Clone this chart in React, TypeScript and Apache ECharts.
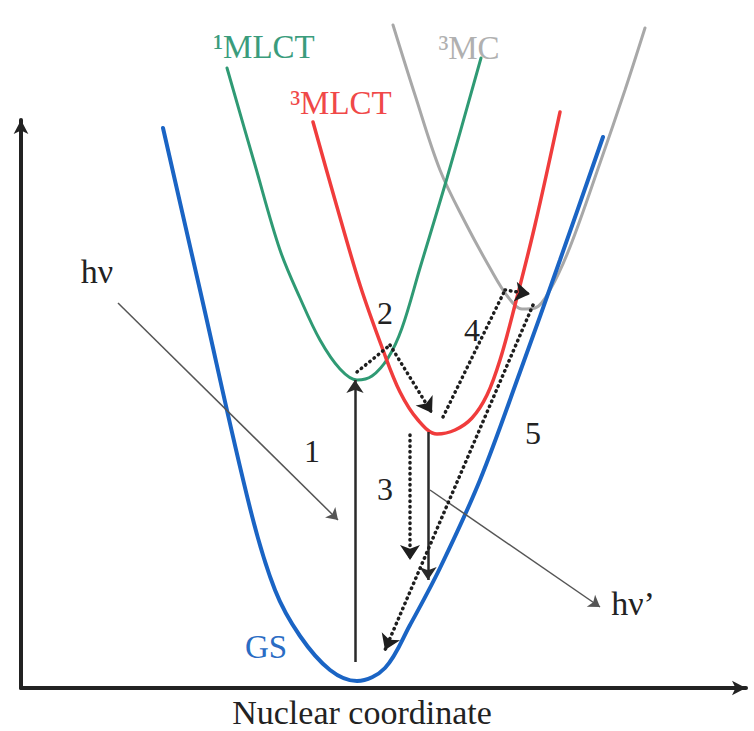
import React, { useEffect, useRef } from "react";
import * as echarts from "echarts";

// Potential energy curves: [nuclear coordinate, energy] (arbitrary units)
const gsCurve = [
  [142, 560], [179, 398], [229, 180], [254, 98], [279, 52], [309, 18], [336, 7],
  [364, 20], [389, 63], [419, 120], [459, 208], [499, 316], [539, 428], [582, 551],
];
const mlct1Curve = [
  [206, 620], [234, 523], [259, 438], [279, 390], [299, 348], [319, 319], [336, 308],
  [351, 312], [367, 330], [381, 360], [399, 420], [426, 510], [460, 630],
];
const mlct3Curve = [
  [292, 566], [314, 488], [339, 403], [362, 338], [379, 296], [397, 268], [416, 254],
  [434, 258], [451, 270], [466, 293], [479, 328], [494, 383], [514, 463], [539, 576],
];
const mc3Curve = [
  [372, 663], [394, 593], [419, 518], [444, 466], [469, 420], [487, 391], [501, 379],
  [514, 380], [529, 398], [549, 441], [579, 525], [604, 598], [624, 660],
];

// Processes (arrows), each a path of points, the last segment carries the arrowhead
const absorptionIn = [[97, 385], [317, 168]]; // hν
const emissionOut = [[409, 198], [579, 81]]; // hν'
const excitation1 = [[334, 26], [334, 308]]; // 1
const emissionDrop = [[407, 256], [407, 108]];
const isc2 = [[336, 316], [369, 343], [411, 275]]; // 2
const relax3 = [[389, 253], [389, 128]]; // 3
const toMC4 = [[422, 271], [484, 398], [509, 394]]; // 4
const decay5 = [[512, 383], [364, 38]]; // 5

const curveNames = ["GS", "¹MLCT", "³MLCT", "³MC"];
const axisTitle = "Nuclear coordinate";
const processLabels = ["1", "2", "3", "4", "5"];

const FONT = "'Liberation Serif', 'Times New Roman', Times, serif";

function segments(path: number[][]) {
  const plain: any[] = [];
  const arrow: any[] = [];
  for (let i = 0; i < path.length - 1; i++) {
    const seg = { coords: [path[i], path[i + 1]] };
    if (i === path.length - 2) arrow.push(seg);
    else plain.push(seg);
  }
  return { plain, arrow };
}

export default function App() {
  const ref = useRef<HTMLDivElement>(null);
  useEffect(() => {
    const chart = echarts.init(ref.current!, null, { renderer: "svg" });

    const dotted = [isc2, relax3, toMC4, decay5].map(segments);
    const dottedPlain = dotted.flatMap((d) => d.plain);
    const dottedArrow = dotted.flatMap((d) => d.arrow);

    const curveLine = (name: string, data: number[][], color: string, width: number) => ({
      name,
      type: "line",
      data,
      smooth: 0.35,
      showSymbol: false,
      clip: false,
      lineStyle: { color, width, cap: "round" },
      z: 2,
    });

    const txt = (text: string, x: number, y: number, color: string, size: number) => ({
      type: "text",
      x,
      y,
      style: {
        text,
        fill: color,
        fontSize: size,
        fontFamily: FONT,
        align: "center",
        verticalAlign: "middle",
      },
      z: 10,
    });

    chart.setOption({
      animation: false,
      backgroundColor: "#ffffff",
      grid: { left: 21, right: 8, top: 120, bottom: 43 },
      xAxis: {
        type: "value",
        min: 0,
        max: 725,
        axisLine: {
          show: true,
          lineStyle: { color: "#222", width: 4 },
          symbol: ["none", "arrow"],
          symbolSize: [11, 14],
        },
        axisTick: { show: false },
        axisLabel: { show: false },
        splitLine: { show: false },
      },
      yAxis: {
        type: "value",
        min: 0,
        max: 568,
        axisLine: {
          show: true,
          lineStyle: { color: "#222", width: 4 },
          symbol: ["none", "arrow"],
          symbolSize: [11, 14],
        },
        axisTick: { show: false },
        axisLabel: { show: false },
        splitLine: { show: false },
      },
      series: [
        curveLine(curveNames[3], mc3Curve, "#a8a8a8", 3),
        curveLine(curveNames[1], mlct1Curve, "#2f9a74", 3),
        curveLine(curveNames[2], mlct3Curve, "#f03c3c", 3.5),
        curveLine(curveNames[0], gsCurve, "#1a64c4", 4),
        {
          type: "lines",
          coordinateSystem: "cartesian2d",
          clip: false,
          symbol: ["none", "arrow"],
          symbolSize: [8, 11],
          lineStyle: { color: "#555", width: 1.5, opacity: 1 },
          data: [{ coords: absorptionIn }, { coords: emissionOut }],
          z: 5,
        },
        {
          type: "lines",
          coordinateSystem: "cartesian2d",
          clip: false,
          symbol: ["none", "arrow"],
          symbolSize: [10, 13],
          lineStyle: { color: "#2a2a2a", width: 2.5, opacity: 1 },
          data: [{ coords: excitation1 }, { coords: emissionDrop }],
          z: 5,
        },
        {
          type: "lines",
          coordinateSystem: "cartesian2d",
          clip: false,
          symbol: ["none", "none"],
          lineStyle: { color: "#1e1e1e", width: 3.5, type: [0.5, 5], cap: "round", opacity: 1 },
          data: dottedPlain,
          z: 6,
        },
        {
          type: "lines",
          coordinateSystem: "cartesian2d",
          clip: false,
          symbol: ["none", "arrow"],
          symbolSize: [12, 15],
          lineStyle: { color: "#1e1e1e", width: 3.5, type: [0.5, 5], cap: "round", opacity: 1 },
          data: dottedArrow,
          z: 6,
        },
      ],
      graphic: [
        txt(curveNames[1], 264, 47, "#3a9c7c", 33),
        txt(curveNames[2], 341, 103, "#f04848", 33),
        txt(curveNames[3], 469, 48, "#b0b0b0", 33),
        txt(curveNames[0], 266, 647, "#2a6cc4", 33),
        txt("hν", 97, 271, "#222", 34),
        txt("hν’", 633, 603, "#222", 34),
        txt(processLabels[0], 312, 451, "#222", 32),
        txt(processLabels[1], 385, 313, "#222", 32),
        txt(processLabels[2], 385, 489, "#222", 32),
        txt(processLabels[3], 472, 330, "#222", 32),
        txt(processLabels[4], 533, 433, "#222", 32),
        txt(axisTitle, 362, 712, "#222", 34),
      ],
    });
    return () => chart.dispose();
  }, []);
  return (
    <div
      ref={ref}
      style={{ position: "absolute", left: 0, top: 0, width: 754, height: 731 }}
    />
  );
}
